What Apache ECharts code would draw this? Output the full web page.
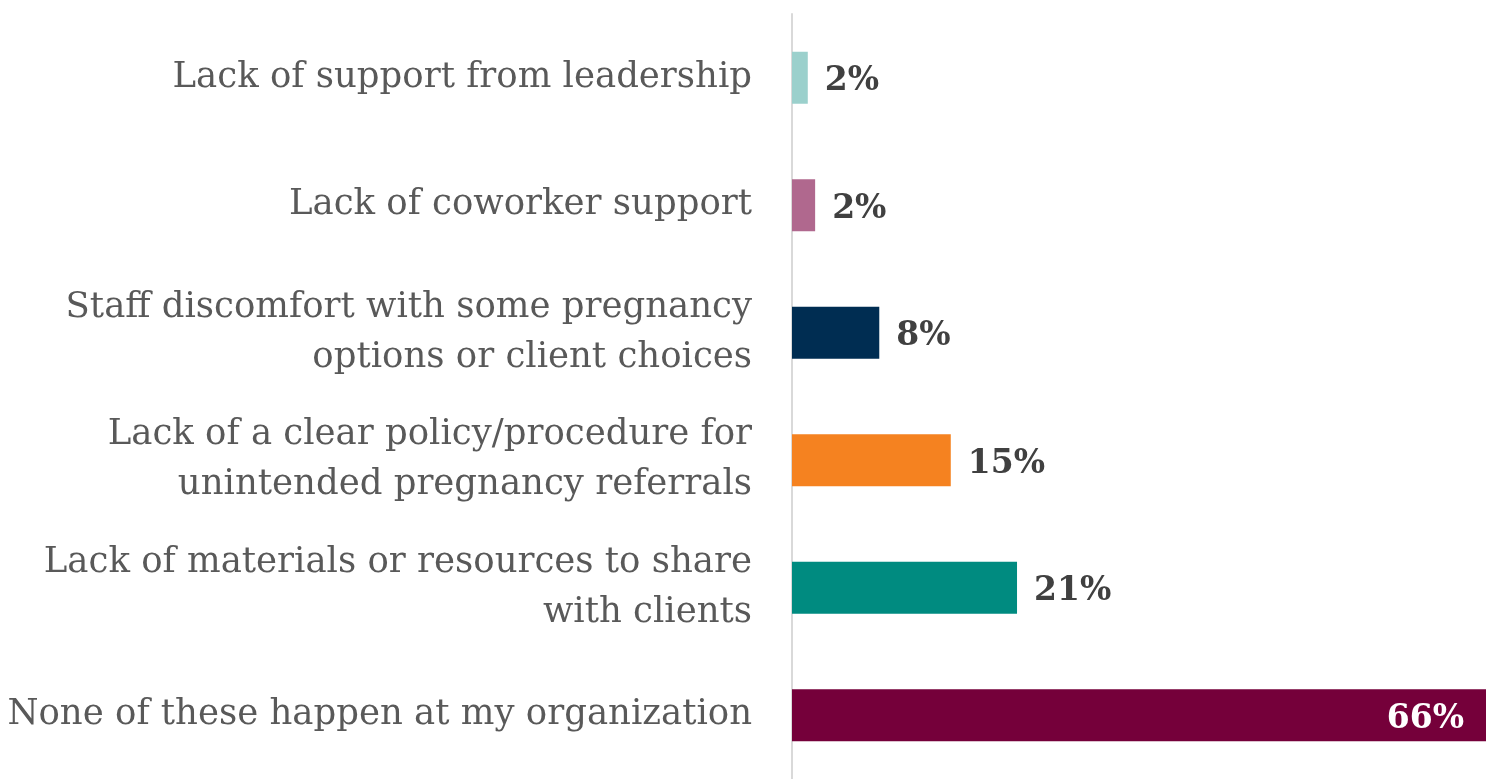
<!DOCTYPE html>
<html>
<head>
<meta charset="utf-8">
<script src="https://cdn.jsdelivr.net/npm/echarts@6/dist/echarts.min.js"></script>
<style>
  html, body { margin: 0; padding: 0; background: #ffffff; }
  #chart { width: 1486px; height: 779px; }
</style>
</head>
<body>
<div id="chart"></div>
<script>
// categories top to bottom
var categories = [
  'Lack of support from leadership',
  'Lack of coworker support',
  'Staff discomfort with some pregnancy\noptions or client choices',
  'Lack of a clear policy/procedure for\nunintended pregnancy referrals',
  'Lack of materials or resources to share\nwith clients',
  'None of these happen at my organization'
];
// bar lengths (percent)
var values = [1.5, 2.2, 8.3, 15.1, 21.4, 66];
// labels as printed on the chart
var valueLabels = ['2%', '2%', '8%', '15%', '21%', '66%'];
var barColors = ['#9BD0CC', '#B0688E', '#002D52', '#F58220', '#008B80', '#75003A'];

var chart = echarts.init(document.getElementById('chart'));

var data = values.map(function (v, i) {
  var item = {
    value: v,
    itemStyle: { color: barColors[i] }
  };
  if (i === values.length - 1) {
    item.label = { position: 'insideRight', distance: 22, color: '#ffffff' };
  }
  return item;
});

chart.setOption({
  animation: false,
  grid: { left: 792, right: 0, top: 14, bottom: -2, containLabel: false },
  xAxis: {
    type: 'value',
    min: 0,
    max: 66,
    show: false
  },
  yAxis: {
    type: 'category',
    inverse: true,
    data: categories,
    axisTick: { show: false },
    axisLine: { show: true, lineStyle: { color: '#d9d9d9', width: 2 } },
    axisLabel: {
      margin: 40,
      fontFamily: 'DejaVu Serif',
      fontSize: 35.5,
      lineHeight: 50,
      color: '#595959',
      align: 'right',
      padding: [9, 0, 0, 0]
    }
  },
  series: [{
    type: 'bar',
    barWidth: 52,
    data: data,
    label: {
      show: true,
      position: 'right',
      distance: 17,
      offset: [0, 4],
      fontFamily: 'DejaVu Serif',
      fontWeight: 'bold',
      fontSize: 33,
      color: '#404040',
      formatter: function (p) { return valueLabels[p.dataIndex]; }
    }
  }]
});
</script>
</body>
</html>
